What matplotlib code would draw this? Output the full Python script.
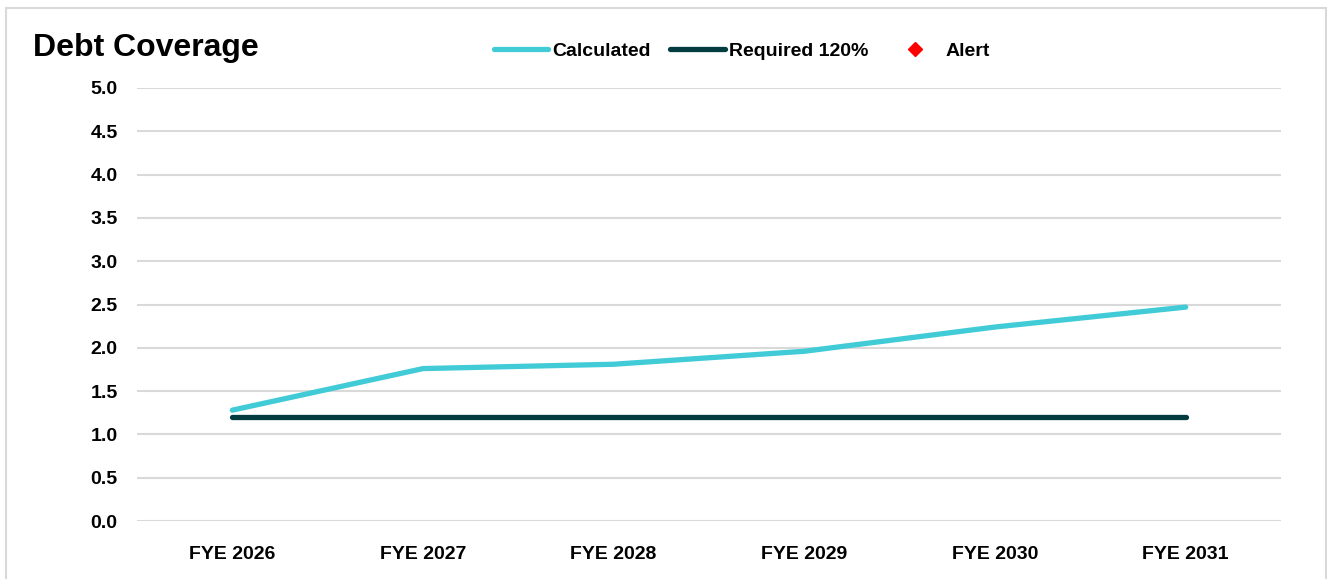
import numpy as np
import matplotlib
matplotlib.use('Agg')
from matplotlib import pyplot as plt
from matplotlib.patches import Rectangle
from matplotlib.lines import Line2D

# data
years = ['FYE 2026', 'FYE 2027', 'FYE 2028', 'FYE 2029', 'FYE 2030', 'FYE 2031']
calculated = [1.28, 1.76, 1.81, 1.96, 2.24, 2.47]
required = [1.2, 1.2, 1.2, 1.2, 1.2, 1.2]
alert = [np.nan] * 6
yticks = [0.0, 0.5, 1.0, 1.5, 2.0, 2.5, 3.0, 3.5, 4.0, 4.5, 5.0]

plt.rcParams['font.family'] = ['Liberation Sans', 'DejaVu Sans']
plt.rcParams['font.weight'] = 'bold'

fig = plt.figure(figsize=(13.27, 5.79), dpi=100)
ax = fig.add_axes([137 / 1327, 1 - 521 / 579, (1281 - 137) / 1327, (521 - 88) / 579])

x = np.arange(len(years))
ax.plot(x, calculated, color='#40CBD6', lw=3.8, solid_capstyle='round', zorder=3)
ax.plot(x, required, color='#033C40', lw=3.8, solid_capstyle='round', zorder=3)
ax.plot(x, alert, ls='none', marker='D', color='red', ms=7)

ax.set_xlim(-0.5, len(years) - 0.5)
ax.set_ylim(0, 5)
ax.set_xticks(x)
ax.set_xticklabels(years, fontsize=14, fontweight='bold')
ax.set_yticks(yticks)
ax.set_yticklabels(['%.1f' % v for v in yticks], fontsize=14, fontweight='bold')
ax.tick_params(length=0, pad=14)
ax.tick_params(axis='x', pad=18)
ax.grid(axis='y', color='#d9d9d9', lw=1.5)
ax.set_axisbelow(True)
for s in ax.spines.values():
    s.set_visible(False)

# outer chart border
fig.patches.append(Rectangle((6 / 1327, -0.1), 1320 / 1327, 1.1 - 8 / 579,
                             transform=fig.transFigure, fill=False,
                             ec='#d9d9d9', lw=1.5))

fig.text(33 / 1327, 1 - 48 / 579, 'Debt Coverage', fontsize=23, fontweight='bold',
         va='center', ha='left')

handles = [Line2D([], [], color='#40CBD6', lw=3.8, solid_capstyle='round'),
           Line2D([], [], color='#033C40', lw=3.8, solid_capstyle='round'),
           Line2D([], [], ls='none', marker='D', color='red', ms=7)]
fig.legend(handles, ['Calculated', 'Required 120%', 'Alert'], ncol=3,
           loc='center', bbox_to_anchor=(742 / 1327, 1 - 51 / 579),
           frameon=False, fontsize=14, handlelength=2.8, handletextpad=0.2,
           columnspacing=1.0)

fig.savefig('out.png', dpi=100)
